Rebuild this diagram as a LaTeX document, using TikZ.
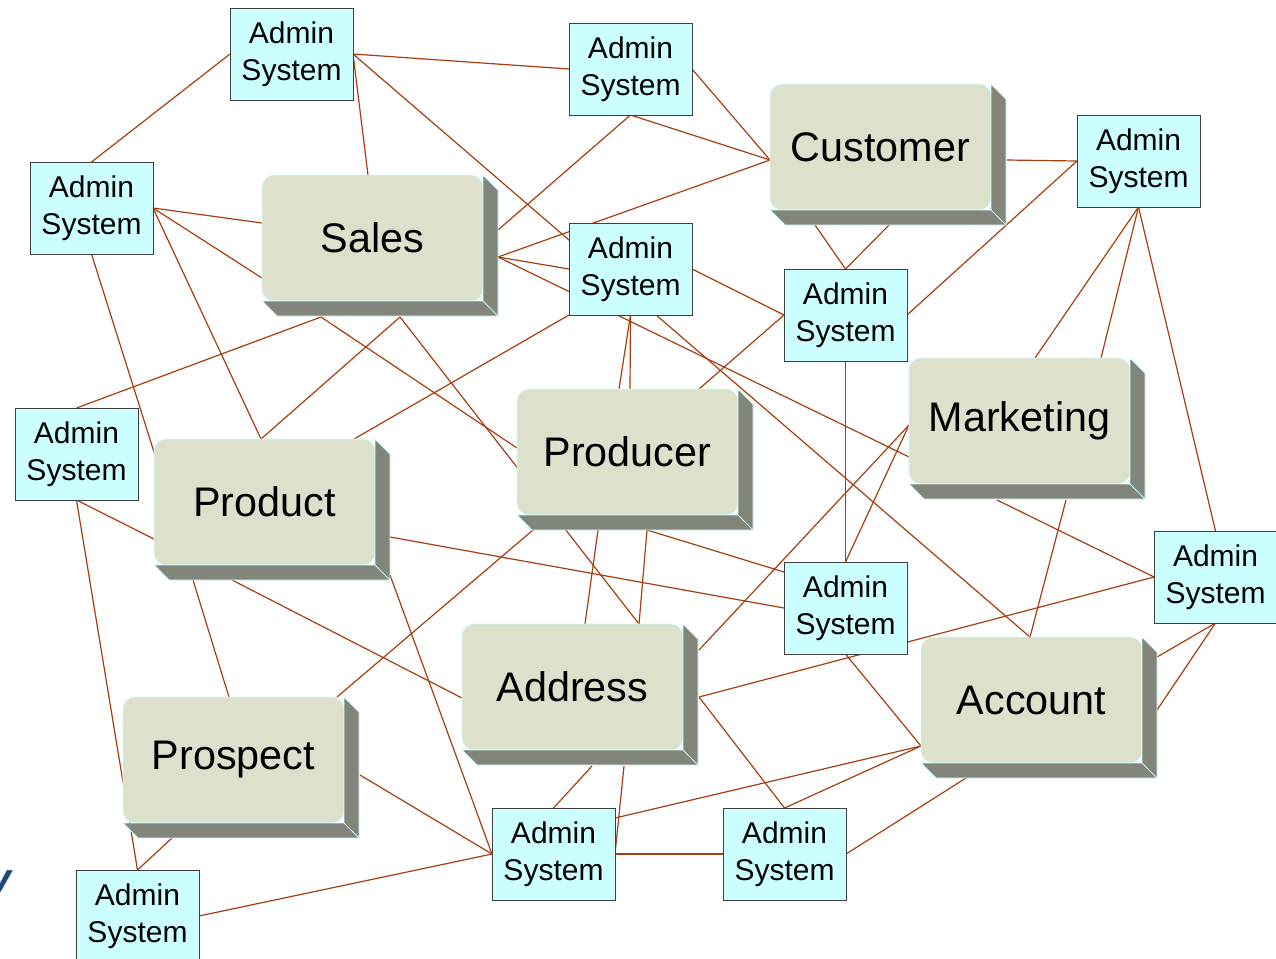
\documentclass[tikz,border=0pt]{standalone}
\usepackage{fontspec}
\setmainfont{Liberation Sans}
\usetikzlibrary{backgrounds}
\definecolor{facecol}{RGB}{221,224,203}
\definecolor{sidecol}{RGB}{130,133,122}
\definecolor{edgecol}{RGB}{204,255,255}
\definecolor{admincol}{RGB}{204,255,255}
\definecolor{linkcol}{RGB}{166,62,16}
\definecolor{vcol}{RGB}{31,73,125}
\begin{document}
\begin{tikzpicture}[x=0.75pt,y=-0.75pt,
  entity/.style={fill=facecol,draw=edgecol,line width=0.6pt,rounded corners=9pt,
    minimum width=165.75pt,minimum height=94.5pt,inner sep=0pt,outer sep=0pt,
    font=\fontsize{31}{37}\selectfont},
  admin/.style={fill=admincol,draw=black!75,line width=0.75pt,
    minimum width=92.25pt,minimum height=69pt,inner sep=0pt,outer sep=0pt,
    align=center,font=\fontsize{22.5}{27.75}\selectfont},
  link/.style={draw=linkcol,line width=0.9pt},
  sideface/.style={fill=sidecol,draw=edgecol,line width=0.6pt}]
  \useasboundingbox (0,0) rectangle (1276,958);

  % entities
  \node[entity] (sales)     at (372.5,238) {Sales};
  \node[entity] (customer)  at (880.5,147) {Customer};
  \node[entity] (producer)  at (627.5,452) {Producer};
  \node[entity] (product)   at (264.5,502) {Product};
  \node[entity] (marketing) at (1019.5,421) {Marketing};
  \node[entity] (address)   at (572.5,687) {Address};
  \node[entity] (account)   at (1031.5,700) {Account};
  \node[entity] (prospect)  at (233.5,760) {Prospect};
  \foreach \n in {sales,customer,producer,product,marketing,address,account,prospect} {
    \filldraw[sideface] (\n.north east) -- ++(15,15) -- ([shift={(15,15)}]\n.south east)
      -- ([shift={(15,15)}]\n.south west) -- (\n.south west) -- (\n.south east) -- cycle;
    \draw[edgecol,line width=0.6pt] (\n.south east) -- ++(15,15);
  }

  % admin systems
  \node[admin] (a1)  at (291.5,54)   {Admin\\System};
  \node[admin] (a2)  at (630.5,69)   {Admin\\System};
  \node[admin] (a3)  at (91.5,208)   {Admin\\System};
  \node[admin] (a4)  at (1138.5,161) {Admin\\System};
  \node[admin] (a5)  at (630.5,269)  {Admin\\System};
  \node[admin] (a6)  at (845.5,315)  {Admin\\System};
  \node[admin] (a7)  at (76.5,454)   {Admin\\System};
  \node[admin] (a8)  at (1215.5,577) {Admin\\System};
  \node[admin] (a9)  at (845.5,608)  {Admin\\System};
  \node[admin] (a10) at (553.5,854)  {Admin\\System};
  \node[admin] (a11) at (784.5,854)  {Admin\\System};
  \node[admin] (a12) at (137.5,916)  {Admin\\System};

  \node[text=vcol,font=\fontsize{31}{37}\selectfont\bfseries\itshape,inner sep=0pt,
    anchor=base east] (vmark) at (12,892) {v};

  % connectors, under the boxes
  \begin{scope}[on background layer]
    \draw[link] (a1.west) -- (a3.north);
    \draw[link] (a1.east) -- (a2.west);
    \draw[link] (a1.east) -- ([shift={(106,0)}]sales.north west);
    \draw[link] (a1.east) -- ([shift={(109,0)}]account.north west);
    \draw[link] (a2.east) -- ([shift={(0,76)}]customer.north west);
    \draw[link] (a2.south) -- ([shift={(0,76)}]customer.north west);
    \draw[link] (a2.south) -- ([shift={(236,55)}]sales.north west);
    \draw[link] ([shift={(0,76)}]customer.north west) -- ([shift={(236,82)}]sales.north west);
    \draw[link] ([shift={(237,76)}]customer.north west) -- (a4.west);
    \draw[link] (a4.west) -- (a6.east);
    \draw[link] ([shift={(45,141)}]customer.north west) -- (a6.north);
    \draw[link] ([shift={(123,137)}]customer.north west) -- (a6.north);
    \draw[link] (a4.south) -- ([shift={(126,0)}]marketing.north west);
    \draw[link] (a4.south) -- ([shift={(192,0)}]marketing.north west);
    \draw[link] (a4.south) -- (a8.north);
    \draw[link] (a3.east) -- ([shift={(0,48)}]sales.north west);
    \draw[link] (a3.east) -- ([shift={(0,103)}]sales.north west);
    \draw[link] (a3.east) -- ([shift={(107,0)}]product.north west);
    \draw[link] ([shift={(107,0)}]product.north west) -- ([shift={(138,142)}]sales.north west);
    \draw[link] (a3.south) -- ([shift={(0,13)}]product.north west);
    \draw[link] (a7.north) -- ([shift={(59,142)}]sales.north west);
    \draw[link] ([shift={(59,142)}]sales.north west) -- ([shift={(0,59)}]producer.north west);
    \draw[link] ([shift={(138,142)}]sales.north west) -- ([shift={(177,0)}]address.north west);
    \draw[link] ([shift={(200,0)}]product.north west) -- (a5.south west);
    \draw[link] (a7.south) -- ([shift={(0,100)}]product.north west);
    \draw[link] (a7.south) -- (a12.north);
    \draw[link] ([shift={(236,98)}]product.north west) -- (a9.west);
    \draw[link] ([shift={(39,141)}]product.north west) -- ([shift={(106,0)}]prospect.north west);
    \draw[link] ([shift={(78,141)}]product.north west) -- ([shift={(0,74)}]address.north west);
    \draw[link] ([shift={(236,136)}]product.north west) -- (a10.west);
    \draw[link] ([shift={(214,0)}]prospect.north west) -- ([shift={(16,141)}]producer.north west);
    \draw[link] (a5.south) -- ([shift={(102,0)}]producer.north west);
    \draw[link] (a5.south) -- ([shift={(113,0)}]producer.north west);
    \draw[link] ([shift={(236,82)}]sales.north west) -- ([shift={(0,99)}]marketing.north west);
    \draw[link] ([shift={(236,82)}]sales.north west) -- (a5.west);
    \draw[link] (a5.east) -- (a6.west);
    \draw[link] ([shift={(182,0)}]producer.north west) -- (a6.west);
    \draw[link] (a6.south) -- (a9.north);
    \draw[link] ([shift={(0,67)}]marketing.north west) -- ([shift={(237,26)}]address.north west);
    \draw[link] ([shift={(0,67)}]marketing.north west) -- (a9.north);
    \draw[link] ([shift={(88,142)}]marketing.north west) -- (a8.west);
    \draw[link] ([shift={(157,142)}]marketing.north west) -- ([shift={(109,0)}]account.north west);
    \draw[link] (a8.west) -- ([shift={(237,73)}]address.north west);
    \draw[link] ([shift={(81,141)}]producer.north west) -- ([shift={(123,0)}]address.north west);
    \draw[link] ([shift={(130,141)}]producer.north west) -- ([shift={(177,0)}]address.north west);
    \draw[link] ([shift={(130,141)}]producer.north west) -- ([shift={(0,10)}]a9.north west);
    \draw[link] (a9.south) -- ([shift={(0,109)}]account.north west);
    \draw[link] ([shift={(237,73)}]address.north west) -- (a11.north);
    \draw[link] ([shift={(130,142)}]address.north west) -- (a10.north);
    \draw[link] ([shift={(162,142)}]address.north west) -- (a10.east);
    \draw[link] ([shift={(0,10)}]a10.north east) -- ([shift={(0,109)}]account.north west);
    \draw[link] (a10.east) -- (a11.west);
    \draw[link] (a11.north) -- ([shift={(0,109)}]account.north west);
    \draw[link] (a11.east) -- ([shift={(45,141)}]account.north west);
    \draw[link] ([shift={(237,78)}]prospect.north west) -- (a10.west);
    \draw[link] ([shift={(49,141)}]prospect.north west) -- (a12.north);
    \draw[link] (a12.east) -- (a10.west);
    \draw[link] (a8.south) -- ([shift={(236,20)}]account.north west);
    \draw[link] (a8.south) -- ([shift={(236,73)}]account.north west);
  \end{scope}
\end{tikzpicture}
\end{document}
